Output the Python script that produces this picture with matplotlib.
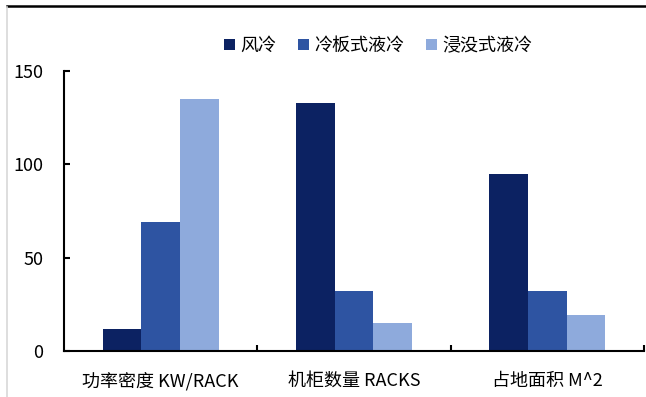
import matplotlib
matplotlib.use("Agg")
import matplotlib.pyplot as plt
import numpy as np
from matplotlib.lines import Line2D
from matplotlib.patches import Patch

plt.rcParams['font.family'] = ['Noto Sans CJK SC', 'DejaVu Sans']

categories = ["功率密度 KW/RACK", "机柜数量 RACKS", "占地面积 M^2"]
series_names = ["风冷", "冷板式液冷", "浸没式液冷"]
air_cooling = [12, 133, 95]
cold_plate = [69, 32, 32]
immersion = [135, 15, 19]
y_ticks = [0, 50, 100, 150]

colors = ["#0c2262", "#2e54a2", "#8eaadc"]
series = [air_cooling, cold_plate, immersion]

fig = plt.figure(figsize=(6.46, 3.97), dpi=100)
ax = fig.add_axes([0.099, 0.116, 0.898, 0.705])

x = np.arange(len(categories))
width = 0.2
for i, (vals, c) in enumerate(zip(series, colors)):
    ax.bar(x + (i - 1) * width, vals, width=width, color=c, label=series_names[i], zorder=2)

ax.set_xlim(-0.5, len(categories) - 0.5)
ax.set_ylim(0, 150)
ax.set_yticks(y_ticks)
ax.set_yticklabels([str(t) for t in y_ticks], fontsize=13)
ax.set_xticks(x)
ax.set_xticklabels(categories, fontsize=13)
ax.set_xticks(np.arange(len(categories)) + 0.5, minor=True)

for s in ["top", "right"]:
    ax.spines[s].set_visible(False)
for s in ["left", "bottom"]:
    ax.spines[s].set_linewidth(1.5)
    ax.spines[s].set_color("black")

ax.tick_params(axis="y", direction="in", length=4, width=1.5, pad=15)
ax.tick_params(axis="x", which="major", length=0, pad=15)
ax.tick_params(axis="x", which="minor", direction="in", length=4, width=1.5)

handles = [Patch(facecolor=c, edgecolor="none") for c in colors]
fig.legend(handles, series_names, loc="center", bbox_to_anchor=(0.585, 0.884),
           ncol=3, frameon=False, fontsize=13, handlelength=0.6, handleheight=0.6,
           handletextpad=0.3, columnspacing=1.2)

# frame lines around the figure
fig.add_artist(Line2D([7 / 646, 1], [1 - 5.5 / 397, 1 - 5.5 / 397], color="black", lw=1.8,
                      transform=fig.transFigure))
fig.add_artist(Line2D([7 / 646, 7 / 646], [0, 1 - 7 / 397], color="#d8d8d8", lw=1.2,
                      transform=fig.transFigure))

fig.savefig("out.png", dpi=100)
